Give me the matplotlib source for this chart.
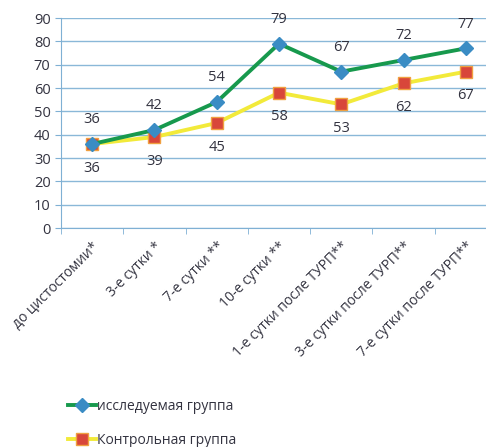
import matplotlib.pyplot as plt
import numpy as np

plt.rcParams['font.family'] = ['Open Sans', 'DejaVu Sans']

categories = ['до цистостомии*', '3-е сутки *', '7-е сутки **', '10-е сутки **',
              '1-е сутки после ТУРП**', '3-е сутки после ТУРП**', '7-е сутки после ТУРП**']
study = [36, 42, 54, 79, 67, 72, 77]
control = [36, 39, 45, 58, 53, 62, 67]
study_name = 'исследуемая группа'
control_name = 'Контрольная группа'

fig = plt.figure(figsize=(4.86, 4.47), dpi=100)
ax = fig.add_axes([61/486, 1 - 228/447, (497 - 61)/486, (228 - 18)/447])

x = np.arange(len(categories))
l1, = ax.plot(x, study, color='#17994d', lw=2.8, marker='D', ms=7,
              mfc='#3a8cc4', mec='#3a8cc4', zorder=4)
l2, = ax.plot(x, control, color='#f2ea3a', lw=2.8, marker='s', ms=8,
              mfc='#d8463a', mec='#f0a040', mew=1, zorder=3)

for i, v in enumerate(study):
    ax.annotate(str(v), (i, v), xytext=(0, 12), textcoords='offset points',
                ha='center', va='bottom', fontsize=10.5, color='#333340')
for i, v in enumerate(control):
    ax.annotate(str(v), (i, v), xytext=(0, -12), textcoords='offset points',
                ha='center', va='top', fontsize=10.5, color='#333340')

ax.set_xlim(-0.5, 6.5)
ax.set_ylim(0, 90)
ax.set_yticks(range(0, 91, 10))
ax.tick_params(axis='y', labelsize=10.5, colors='#7fb0d4', labelcolor='#333340', length=4)
ax.yaxis.grid(True, color='#8ab8d8', lw=1)
ax.set_axisbelow(True)

ax.set_xticks(x)
ax.set_xticklabels(categories, rotation=45, ha='right', rotation_mode='anchor', fontsize=10,
                   color='#333340')
ax.set_xticks(np.arange(-0.5, 7, 1), minor=True)
ax.tick_params(axis='x', which='major', length=0, pad=8)
ax.tick_params(axis='x', which='minor', length=4, color='#7fb0d4')

for s in ['top', 'right']:
    ax.spines[s].set_visible(False)
ax.spines['left'].set_color('#7fb0d4')
ax.spines['bottom'].set_color('#7fb0d4')

fig.legend([l1, l2], [study_name, control_name], loc='upper left',
           bbox_to_anchor=(58/486, 1 - 389/447), frameon=False, fontsize=10,
           handlelength=2.0, handletextpad=0.1, labelspacing=1.4, labelcolor='#333340',
           borderpad=0.2)

fig.savefig('out.png', dpi=100)
